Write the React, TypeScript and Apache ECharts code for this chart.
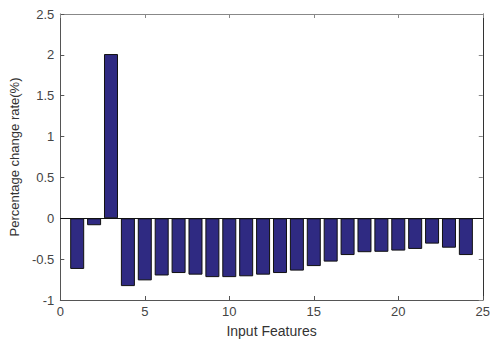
import React, { useEffect, useRef } from "react";
import * as echarts from "echarts";

const features = [1, 2, 3, 4, 5, 6, 7, 8, 9, 10, 11, 12, 13, 14, 15, 16, 17, 18, 19, 20, 21, 22, 23, 24];
const changeRates = [
  -0.62, -0.085, 2.01, -0.83, -0.76, -0.7, -0.67, -0.69, -0.72, -0.72, -0.71, -0.69,
  -0.67, -0.64, -0.585, -0.53, -0.45, -0.415, -0.41, -0.395, -0.375, -0.31, -0.36, -0.45,
];
const xTicks = [0, 5, 10, 15, 20, 25];
const yTicks = [-1, -0.5, 0, 0.5, 1, 1.5, 2, 2.5];

export default function App() {
  const ref = useRef<HTMLDivElement>(null);
  useEffect(() => {
    if (!ref.current) return;
    const chart = echarts.init(ref.current, null, { renderer: "svg" });
    const font = "'Liberation Sans', Arial, sans-serif";
    const axisColor = "#555";
    const labelColor = "#444";
    chart.setOption({
      animation: false,
      backgroundColor: "#fff",
      grid: { left: 56, right: 6, top: 14, bottom: 42, containLabel: false },
      xAxis: [
        {
          type: "value",
          min: xTicks[0],
          max: xTicks[xTicks.length - 1],
          interval: 5,
          position: "bottom",
          name: "Input Features",
          nameLocation: "middle",
          nameGap: 24,
          nameTextStyle: { color: "#333", fontSize: 14, fontFamily: font },
          axisLine: { show: true, onZero: false, lineStyle: { color: axisColor, width: 1 } },
          axisTick: { show: true, inside: true, length: 4, lineStyle: { color: axisColor } },
          axisLabel: { color: labelColor, fontSize: 13, fontFamily: font, margin: 5 },
          splitLine: { show: false },
        },
        {
          type: "value",
          min: xTicks[0],
          max: xTicks[xTicks.length - 1],
          interval: 5,
          position: "top",
          axisLine: { show: true, onZero: false, lineStyle: { color: "#888", width: 1 } },
          axisTick: { show: true, inside: true, length: 4, lineStyle: { color: "#888" } },
          axisLabel: { show: false },
          splitLine: { show: false },
        },
      ],
      yAxis: [
        {
          type: "value",
          min: yTicks[0],
          max: yTicks[yTicks.length - 1],
          interval: 0.5,
          position: "left",
          name: "Percentage change rate(%)",
          nameLocation: "middle",
          nameGap: 37,
          nameTextStyle: { color: "#333", fontSize: 13, fontFamily: font },
          axisLine: { show: true, onZero: false, lineStyle: { color: axisColor, width: 1 } },
          axisTick: { show: true, inside: true, length: 4, lineStyle: { color: axisColor } },
          axisLabel: { color: labelColor, fontSize: 13, fontFamily: font, margin: 6 },
          splitLine: { show: false },
        },
        {
          type: "value",
          min: yTicks[0],
          max: yTicks[yTicks.length - 1],
          interval: 0.5,
          position: "right",
          axisLine: { show: true, onZero: false, lineStyle: { color: "#333", width: 1 } },
          axisTick: { show: true, inside: true, length: 4, lineStyle: { color: "#888" } },
          axisLabel: { show: false },
          splitLine: { show: false },
        },
      ],
      series: [
        {
          type: "bar",
          xAxisIndex: 0,
          yAxisIndex: 0,
          data: features.map((f, i) => [f, changeRates[i]]),
          barWidth: 14,
          itemStyle: { color: "#2f2a82", borderColor: "#111", borderWidth: 1 },
          markLine: {
            silent: true,
            symbol: "none",
            label: { show: false },
            lineStyle: { color: "#111", width: 1, type: "solid" },
            data: [{ yAxis: 0 }],
          },
        },
      ],
    });
    return () => chart.dispose();
  }, []);
  return (
    <div
      ref={ref}
      style={{ position: "fixed", left: 0, top: 0, width: 493, height: 343 }}
    />
  );
}
